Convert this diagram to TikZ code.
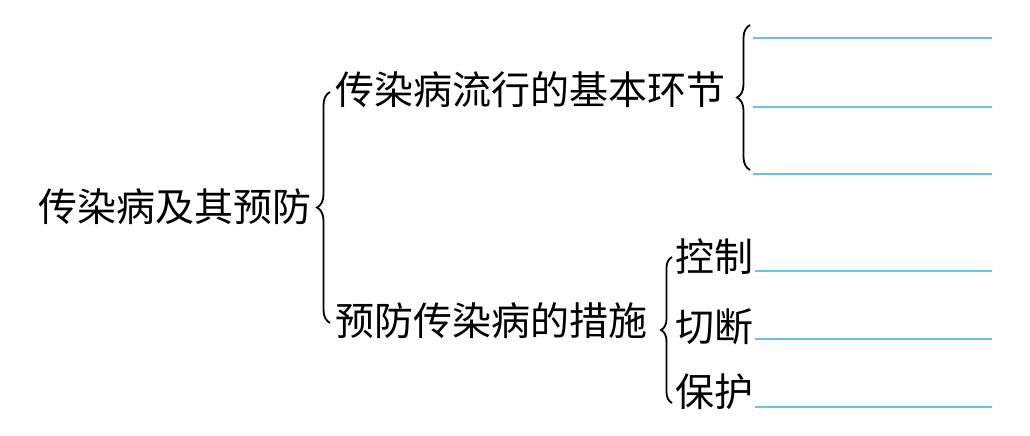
\documentclass[tikz,border=0pt]{standalone}
\usepackage{fontspec}
\newfontfamily\cjk{Noto Sans CJK SC}
\usetikzlibrary{decorations.pathreplacing}
\definecolor{lineblue}{RGB}{105,195,225}

\begin{document}
\begin{tikzpicture}[x=0.5pt,y=-0.5pt,
	txt/.style={font=\cjk\fontsize{19.5}{20}\selectfont,inner sep=0pt},
	brc/.style={decorate,decoration={brace,amplitude=#1},line width=0.9pt},
	blank/.style={lineblue,line width=0.65pt}]
	\useasboundingbox (0,0) rectangle (1030,435);
	% left part
	\node[txt,anchor=east] (root) at (312,207) {传染病及其预防};
	\coordinate (r1) at (330,92); \coordinate (r2) at (330,323);
	\draw[brc=6.5pt] (r2) -- (r1);
	% two branches
	\node[txt,anchor=west] (spread) at (335,90) {传染病流行的基本环节};
	\node[txt,anchor=west] (prevent) at (335,321) {预防传染病的措施};
	\coordinate (s1) at (750,25); \coordinate (s2) at (750,170);
	\draw[brc=6.5pt] (s2) -- (s1);
	\coordinate (p1) at (672,257); \coordinate (p2) at (672,403);
	\draw[brc=5.5pt] (p2) -- (p1);
	% measures
	\node[txt,anchor=west] (control) at (675,257) {控制};
	\node[txt,anchor=west] (cut) at (675,327) {切断};
	\node[txt,anchor=west] (protect) at (675,392) {保护};
	% blank lines
	\foreach \n/\y in {a/38,b/107,c/174}{
		\coordinate (\n0) at (753,\y); \coordinate (\n1) at (992,\y);
		\draw[blank] (\n0) -- (\n1);
	}
	\foreach \n/\y in {d/271,e/339,f/407}{
		\coordinate (\n0) at (755,\y); \coordinate (\n1) at (992,\y);
		\draw[blank] (\n0) -- (\n1);
	}
\end{tikzpicture}
\end{document}
